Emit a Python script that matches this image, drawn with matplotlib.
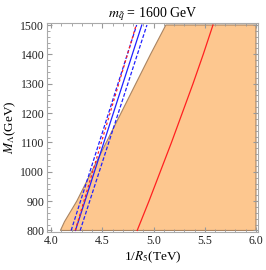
import matplotlib
matplotlib.use("Agg")
import matplotlib.pyplot as plt
from matplotlib.ticker import MultipleLocator

plt.rcParams['font.family'] = ['Liberation Serif', 'DejaVu Serif']
plt.rcParams['mathtext.fontset'] = 'stix'

# allowed region (boundary of the shaded area)
region_x = [4.09, 4.13, 4.25, 4.97, 5.12, 6.0, 6.0]
region_y = [800, 830, 900, 1400, 1500, 1500, 800]

# red solid curve on the right
red_x = [4.84, 4.955, 5.065, 5.175, 5.28, 5.385, 5.485, 5.58]
red_y = [800, 900, 1000, 1100, 1200, 1300, 1400, 1500]

# blue band (central + dashed)
blue_y = [800, 1500]
blue_mid = [4.237, 4.885]
blue_lo = [4.195, 4.835]
blue_hi = [4.283, 4.935]
# red dashed line
red2_x = [4.235, 4.83]
red2_y = [800, 1500]

fig = plt.figure(figsize=(2.66, 2.70), dpi=100)
ax = fig.add_axes([0.177, 0.141, 0.793, 0.774])

ax.fill(region_x, region_y, facecolor='#fdc78f', edgecolor='#a98462', lw=0.8)
ax.plot(red_x, red_y, color='#ff2020', lw=0.9)
ax.plot(blue_mid, blue_y, color='#2020ff', lw=0.9)
ax.plot(blue_lo, blue_y, color='#2020ff', lw=0.9, dashes=(3, 1.5))
ax.plot(blue_hi, blue_y, color='#2020ff', lw=0.9, dashes=(3, 1.5))
ax.plot(red2_x, red2_y, color='#ff2020', lw=0.9, dashes=(2, 2))

ax.set_xlim(3.96, 6.02)
ax.set_ylim(795, 1507)
ax.xaxis.set_major_locator(MultipleLocator(0.5))
ax.xaxis.set_minor_locator(MultipleLocator(0.1))
ax.yaxis.set_major_locator(MultipleLocator(100))
ax.yaxis.set_minor_locator(MultipleLocator(20))
ax.xaxis.set_major_formatter(plt.FormatStrFormatter('%.1f'))
ax.tick_params(which='both', direction='in', top=True, right=True,
               color='#999999', labelsize=8.5, pad=2, labelcolor='#222222')
ax.tick_params(which='major', length=3.5)
ax.tick_params(which='minor', length=2)
for s in ax.spines.values():
    s.set_color('#aaaaaa')
    s.set_linewidth(0.8)

ax.set_title(r'$m_{\tilde{q}}$ = 1600 GeV', fontsize=10, pad=4)
ax.set_xlabel(r'1/$R_5$(TeV)', fontsize=9.5, labelpad=2)
ax.set_ylabel(r'$M_\Lambda$(GeV)', fontsize=9.5, labelpad=2)

fig.savefig('out.png', dpi=100)
